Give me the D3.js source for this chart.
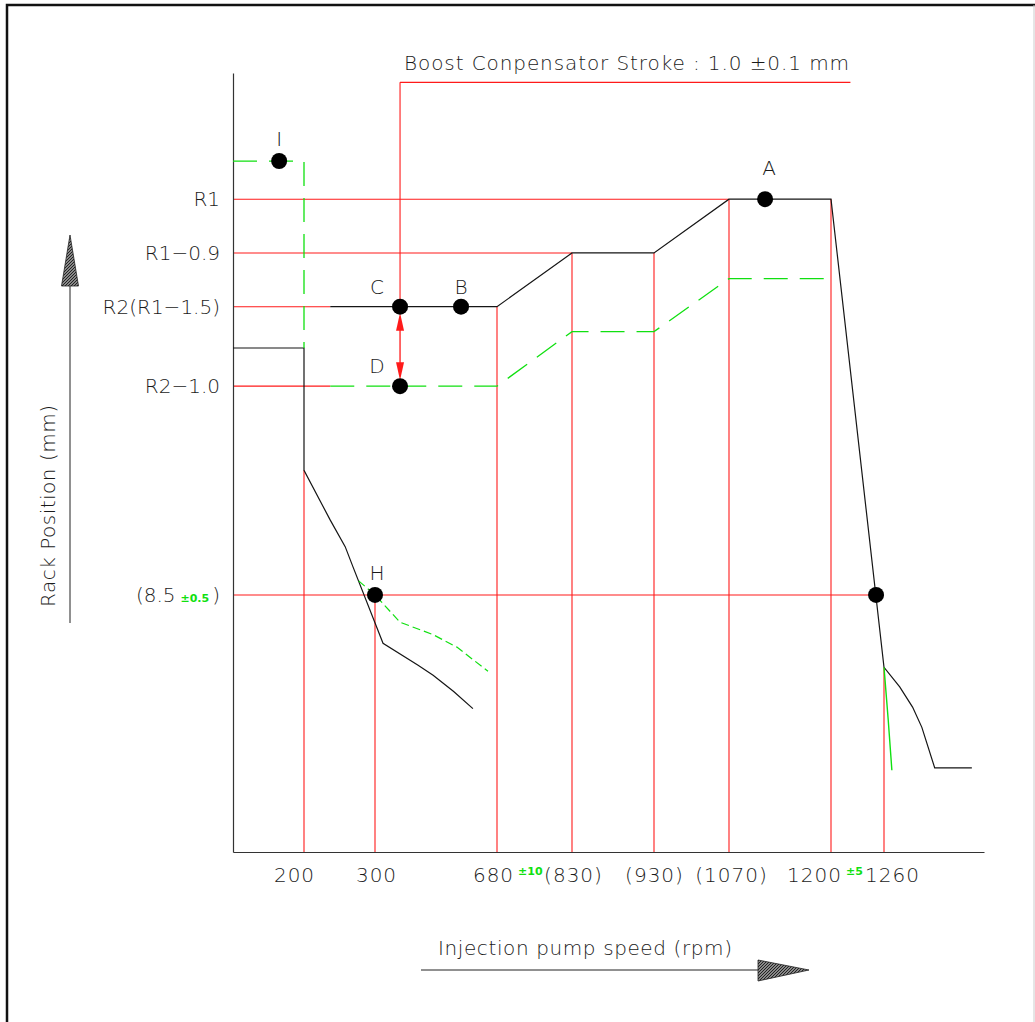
<!DOCTYPE html>
<html>
<head>
<meta charset="utf-8">
<script src="https://cdn.jsdelivr.net/npm/d3@7"></script>
<style>
body { margin: 0; background: #fff; }
svg { display: block; }
text { font-family: "DejaVu Sans", sans-serif; font-weight: 300; fill: #1a1a1a; }
</style>
</head>
<body>
<svg id="chart" width="1035" height="1022"></svg>
<script>
// speed ticks (rpm) and their printed labels
const xTicks = [200, 300, 680, 830, 930, 1070, 1200, 1260];
const xTickLabels = ["200", "300", "680", "(830)", "(930)", "(1070)", "1200", "1260"];
const xTolerance = { 680: "±10", 1200: "±5" };

// rack levels (relative units on the drawing)
const yLevels = [83.8, 76.9, 70.0, 59.8, 33.0];
const yLevelLabels = ["R1", "R1\u22120.9", "R2(R1\u22121.5)", "R2\u22121.0", "(8.5"];

// full load curve (black)
const fullLoadLow = [[100, 64.7], [200, 64.7], [200, 49.0], [237, 42.6], [258, 39.2], [269, 36.6],
                     [325, 26.8], [433, 24.0], [481, 22.7], [545, 20.6], [605, 18.4]];
const fullLoadHigh = [[237, 70.0], [680, 70.0], [830, 76.9], [930, 76.9], [1070, 83.8], [1200, 83.8],
                      [1260, 23.7], [1282, 21.2], [1300, 18.6], [1313, 16.0], [1331, 10.8], [1383, 10.8]];
// boost compensator off (green dashed)
const boostOff = [[237, 59.8], [680, 59.8], [830, 66.8], [930, 66.8], [1070, 73.6], [1200, 73.6]];
const startLine = [[100, 88.7], [200, 88.7], [200, 64.7]];
const idleGreen = [[277, 34.8], [300, 33.0], [378, 29.5], [481, 27.9], [555, 26.3], [652, 23.2]];
const cutGreen = [[1260, 23.7], [1266, 17.0], [1271, 10.5]];

// red guide lines
const hGuides = [[83.8, 100, 1070], [76.9, 100, 830], [70.0, 100, 237], [59.8, 100, 237], [33.0, 100, 1251], [98.8, 378, 1222]];
const vGuides = [[200, 49.0, 0], [300, 33.0, 0], [680, 70.0, 0], [830, 76.9, 0], [930, 76.9, 0],
                 [1070, 83.8, 0], [1200, 83.8, 0], [1260, 23.7, 0], [378, 98.8, 70.0]];

// measuring points
const pointNames = ["I", "A", "C", "B", "D", "H", ""];
const pointRpm = [165, 1116, 378, 568, 378, 300, 1251];
const pointVal = [88.7, 83.8, 70.0, 70.0, 59.8, 33.0, 33.0];
const pointNudge = [[0, -15], [4, -24], [-23, -13], [0, -13], [-23, -13], [2, -15], [0, 0]];

const svg = d3.select("#chart");
const RED = "#ff1a1a", GREEN = "#10e010", INK = "#151515";

// drawing is not to scale on the speed axis, so a piecewise scale
const x = d3.scaleLinear()
  .domain([100, 200, 300, 680, 830, 930, 1070, 1200, 1260, 1400])
  .range([233, 304, 375, 497, 572, 654, 729, 831, 884, 984]);
const y = d3.scaleLinear().domain([0, 100]).range([852, 73]);

const line = d3.line().x(d => x(d[0])).y(d => y(d[1]));

// frame
svg.append("path").attr("d", "M7,1022V5H1035").attr("fill", "none").attr("stroke", "#111").attr("stroke-width", 2.5);
svg.append("line").attr("x1", 1034).attr("x2", 1034).attr("y1", 5).attr("y2", 1022).attr("stroke", "#ccc");

// hatch for the arrow heads
const defs = svg.append("defs");
const pat = defs.append("pattern").attr("id", "hatch").attr("width", 3).attr("height", 3)
  .attr("patternUnits", "userSpaceOnUse");
pat.append("rect").attr("width", 3).attr("height", 3).attr("fill", "#888");
pat.append("path").attr("d", "M0,3L3,0").attr("stroke", "#222").attr("stroke-width", 1);

// guides
const guides = svg.append("g").attr("stroke", RED).attr("stroke-width", 1.1);
guides.selectAll(".hg").data(hGuides).enter().append("line")
  .attr("x1", d => x(d[1])).attr("x2", d => x(d[2]))
  .attr("y1", d => y(d[0])).attr("y2", d => y(d[0]));
guides.selectAll(".vg").data(vGuides).enter().append("line")
  .attr("x1", d => x(d[0])).attr("x2", d => x(d[0]))
  .attr("y1", d => y(d[1])).attr("y2", d => y(d[2]));

// axes
const xAxis = svg.append("g").attr("transform", "translate(0," + y(0) + ")")
  .call(d3.axisBottom(x).tickValues(xTicks).tickSize(0).tickSizeOuter(0).tickFormat((d, i) => xTickLabels[i]));
const xNudge = [-10, 1, -4, 1, 0, 2, -17, 8];
xAxis.select(".domain").attr("stroke", "#333").attr("stroke-width", 1.2);
xAxis.selectAll(".tick text")
  .attr("y", 30).attr("dy", 0).attr("dx", (d, i) => xNudge[i])
  .attr("font-size", 20).attr("letter-spacing", 1).style("fill", "#1a1a1a")
  .each(function(d, i) {
    if (!xTolerance[d]) return;
    const w = this.getComputedTextLength();
    d3.select(this.parentNode).append("text")
      .attr("text-anchor", "start")
      .attr("x", w / 2 + xNudge[i] + 4).attr("y", 23)
      .attr("font-size", 11).style("font-weight", 600)
      .style("fill", GREEN).text(xTolerance[d]);
  });

const yAxis = svg.append("g").attr("transform", "translate(" + x(100) + ",0)")
  .call(d3.axisLeft(y).tickValues(yLevels).tickSize(0).tickSizeOuter(0).tickPadding(13)
    .tickFormat((d, i) => yLevelLabels[i]));
yAxis.select(".domain").attr("stroke", "#333").attr("stroke-width", 1.2);
yAxis.selectAll(".tick text").attr("font-size", 20).style("fill", "#1a1a1a")
  .each(function(d, i) {
    if (i !== 4) return;
    const t = d3.select(this);
    t.append("tspan").attr("dx", 5).attr("font-size", 11).style("font-weight", 600)
      .style("fill", GREEN).text("±0.5");
    t.append("tspan").attr("dx", 3).text(")");
  });

// curves
svg.append("path").datum(fullLoadLow).attr("d", line).attr("fill", "none").attr("stroke", INK).attr("stroke-width", 1.2);
svg.append("path").datum(fullLoadHigh).attr("d", line).attr("fill", "none").attr("stroke", INK).attr("stroke-width", 1.2);
svg.append("path").datum(boostOff).attr("d", line).attr("fill", "none").attr("stroke", GREEN)
  .attr("stroke-width", 1.3).attr("stroke-dasharray", "24,12");
svg.append("path").datum(startLine).attr("d", line).attr("fill", "none").attr("stroke", GREEN)
  .attr("stroke-width", 1.3).attr("stroke-dasharray", "24,12");
svg.append("path").datum(idleGreen).attr("d", line).attr("fill", "none").attr("stroke", GREEN)
  .attr("stroke-width", 1.2).attr("stroke-dasharray", "8,4");
svg.append("path").datum(cutGreen).attr("d", d3.line().x(d => x(d[0])).y(d => y(d[1])).curve(d3.curveBasis))
  .attr("fill", "none").attr("stroke", GREEN).attr("stroke-width", 1.4);

// stroke arrow between C and D
const cx = x(378), cTop = y(70.0), cBot = y(59.8);
svg.append("line").attr("x1", cx).attr("x2", cx).attr("y1", cTop + 10).attr("y2", cBot - 10)
  .attr("stroke", RED).attr("stroke-width", 1.3);
svg.append("path").attr("d", `M${cx},${cTop + 6}L${cx - 4},${cTop + 24}L${cx + 4},${cTop + 24}Z`).attr("fill", RED);
svg.append("path").attr("d", `M${cx},${cBot - 6}L${cx - 4},${cBot - 24}L${cx + 4},${cBot - 24}Z`).attr("fill", RED);

// points and their letters
const pts = svg.append("g");
pts.selectAll("circle").data(pointRpm).enter().append("circle")
  .attr("cx", d => x(d)).attr("cy", (d, i) => y(pointVal[i])).attr("r", 8).attr("fill", "#000");
pts.selectAll("text").data(pointNames).enter().append("text")
  .attr("x", (d, i) => x(pointRpm[i]) + pointNudge[i][0])
  .attr("y", (d, i) => y(pointVal[i]) + pointNudge[i][1])
  .attr("text-anchor", "middle").attr("font-size", 20).text(d => d);

// boost compensator note
svg.append("text").attr("x", 404).attr("y", 70).attr("font-size", 20)
  .attr("textLength", 445).attr("lengthAdjust", "spacing")
  .text("Boost Conpensator Stroke : 1.0 ±0.1 mm");

// axis titles with arrows
svg.append("line").attr("x1", 70).attr("x2", 70).attr("y1", 285).attr("y2", 623).attr("stroke", "#222");
svg.append("path").attr("d", "M70,235L61.5,286L78.5,286Z").attr("fill", "url(#hatch)").attr("stroke", "#222").attr("stroke-width", 0.8);
svg.append("text").attr("transform", "translate(55,506) rotate(-90)").attr("text-anchor", "middle")
  .attr("font-size", 20).attr("textLength", 202).attr("lengthAdjust", "spacing").text("Rack Position (mm)");

svg.append("line").attr("x1", 421).attr("x2", 760).attr("y1", 970).attr("y2", 970).attr("stroke", "#222");
svg.append("path").attr("d", "M809,970L758,960L758,981Z").attr("fill", "url(#hatch)").attr("stroke", "#222").attr("stroke-width", 0.8);
svg.append("text").attr("x", 438).attr("y", 955).attr("font-size", 20)
  .attr("textLength", 294).attr("lengthAdjust", "spacing").text("Injection pump speed (rpm)");
</script>
</body>
</html>
